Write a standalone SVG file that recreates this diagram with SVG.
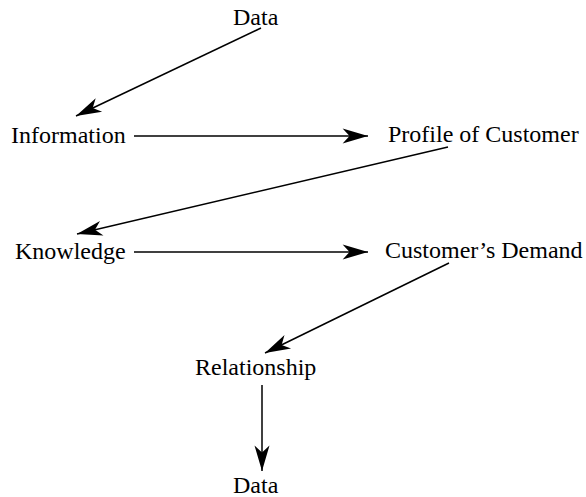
<svg xmlns="http://www.w3.org/2000/svg" width="586" height="497" viewBox="0 0 586 497">
<style>
  text { font-family: "Liberation Serif", "Times New Roman", serif; font-size: 24px; fill: #000; }
  .edge { stroke: #000; stroke-width: 1.5; fill: none; marker-end: url(#arr); }
</style>
<defs>
  <marker id="arr" markerUnits="userSpaceOnUse" markerWidth="30" markerHeight="20" viewBox="-24 -8 26 16" refX="0" refY="0" orient="auto">
    <path d="M0,0 L-22,-6.5 L-16,0 L-22,6.5 Z" fill="#000"/>
  </marker>
</defs>
<rect width="586" height="497" fill="#fff"/>
<g id="connectors">
  <line class="edge" x1="261" y1="28" x2="76" y2="116"/>
  <line class="edge" x1="134" y1="136" x2="368" y2="136"/>
  <line class="edge" x1="448" y1="147" x2="77" y2="234"/>
  <line class="edge" x1="134" y1="252" x2="368" y2="252"/>
  <line class="edge" x1="449" y1="263" x2="265" y2="353"/>
  <line class="edge" x1="262" y1="385" x2="262" y2="471"/>
</g>
<g id="data-top"><text x="233" y="25">Data</text></g>
<g id="information"><text x="11" y="143">Information</text></g>
<g id="profile"><text x="388" y="142">Profile of Customer</text></g>
<g id="knowledge"><text x="15" y="259">Knowledge</text></g>
<g id="demand"><text x="385" y="258">Customer’s Demand</text></g>
<g id="relationship"><text x="195" y="375">Relationship</text></g>
<g id="data-bottom"><text x="233" y="493">Data</text></g>
</svg>
